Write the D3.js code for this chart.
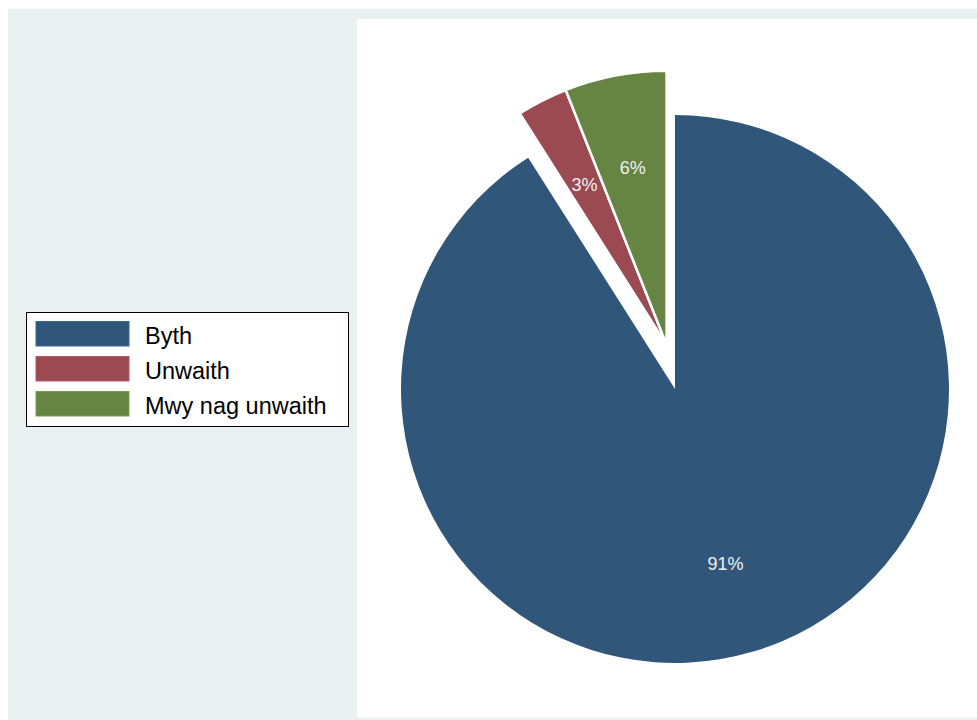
<!DOCTYPE html>
<html>
<head>
<meta charset="utf-8">
<script src="https://cdn.jsdelivr.net/npm/d3@7"></script>
<style>
  html, body { margin: 0; padding: 0; background: #ffffff; }
  svg { display: block; }
</style>
</head>
<body>
<svg id="chart" width="977" height="720"></svg>
<script>
// ---- data ----
const categories = ["Byth", "Unwaith", "Mwy nag unwaith"];
const values = [91, 3, 6];
const exploded = [false, true, true];
const colors = ["#30577a", "#9a4a50", "#668442"];

// ---- layout ----
const W = 977, H = 720;
const svg = d3.select("#chart");
const bg = "#eaf1f3";

svg.append("rect").attr("x", 8).attr("y", 9).attr("width", W - 8).attr("height", H - 9).attr("fill", bg);
svg.append("rect").attr("x", 357).attr("y", 19).attr("width", W - 357).attr("height", 717.5 - 19).attr("fill", "#ffffff");

const cx = 675, cy = 389, R = 274;
const explodeDist = 45;

const pie = d3.pie().sort(null).value(d => d.value).startAngle(0).endAngle(2 * Math.PI);
const data = categories.map((c, i) => ({ name: c, value: values[i], exploded: exploded[i], color: colors[i] }));
const arcs = pie(data);
const total = d3.sum(values);

// explosion direction: bisector of last exploded slice
const lastEx = arcs.filter(a => a.data.exploded).slice(-1)[0];
const exAng = (lastEx.startAngle + lastEx.endAngle) / 2;
const exOff = { x: explodeDist * Math.sin(exAng), y: -explodeDist * Math.cos(exAng) };

const arcGen = d3.arc().innerRadius(0).outerRadius(R);
const labelArc = d3.arc().innerRadius(R * 0.66).outerRadius(R * 0.66);

const g = svg.append("g");
const slices = g.selectAll("g.slice").data(arcs).join("g")
  .attr("class", "slice")
  .attr("transform", d => {
    const ox = d.data.exploded ? exOff.x : 0;
    const oy = d.data.exploded ? exOff.y : 0;
    return `translate(${cx + ox},${cy + oy})`;
  });

slices.append("path")
  .attr("d", arcGen)
  .attr("fill", d => d.data.color)
  .attr("stroke", d => d.data.exploded ? "#ffffff" : "none")
  .attr("stroke-width", 2.5)
  .attr("stroke-linejoin", "miter");

slices.append("text")
  .attr("transform", d => `translate(${labelArc.centroid(d)})`)
  .attr("text-anchor", "middle")
  .attr("dy", "0.4em")
  .attr("font-family", "Liberation Sans, Arial, sans-serif")
  .attr("font-size", 18)
  .attr("fill", "#eef1f4")
  .text(d => d3.format(".0f")(d.data.value / total * 100) + "%");

// ---- legend ----
const lg = svg.append("g");
lg.append("rect").attr("x", 26.5).attr("y", 312.5).attr("width", 322).attr("height", 114)
  .attr("fill", "#ffffff").attr("stroke", "#000000").attr("stroke-width", 1);

const items = lg.selectAll("g.item").data(data).join("g")
  .attr("class", "item")
  .attr("transform", (d, i) => `translate(0,${i * 35})`);

items.append("rect")
  .attr("x", 36).attr("y", 321.5).attr("width", 93).attr("height", 24.5)
  .attr("fill", d => d.color)
  .attr("stroke", d => d3.color(d.color).brighter(0.5))
  .attr("stroke-width", 1);

items.append("text")
  .attr("x", 145).attr("y", 343.5)
  .attr("font-family", "Liberation Sans, Arial, sans-serif")
  .attr("font-size", 23.5)
  .attr("fill", "#000000")
  .text(d => d.name);
</script>
</body>
</html>
